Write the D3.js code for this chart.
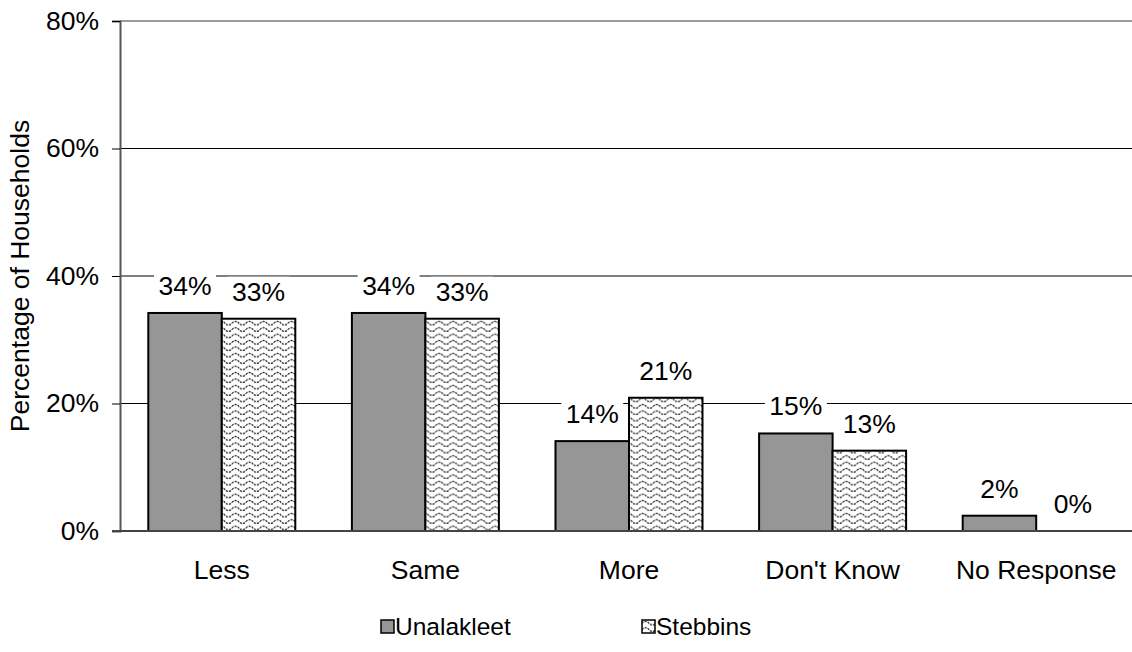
<!DOCTYPE html>
<html>
<head>
<meta charset="utf-8">
<script src="https://cdn.jsdelivr.net/npm/d3@7"></script>
<style>
  html, body { margin: 0; padding: 0; background: #fff; }
  svg { display: block; font-family: Arial, "Liberation Sans", sans-serif; }
</style>
</head>
<body>
<svg id="chart" width="1132" height="652"></svg>
<script>
// Household responses by community
const categories = ["Less", "Same", "More", "Don't Know", "No Response"];
const seriesNames = ["Unalakleet", "Stebbins"];
const unalakleet = [34.2, 34.2, 14.1, 15.3, 2.4];
const stebbins = [33.3, 33.3, 20.9, 12.6, 0];
const labelsUnalakleet = ["34%", "34%", "14%", "15%", "2%"];
const labelsStebbins = ["33%", "33%", "21%", "13%", "0%"];
const yTicks = [0, 20, 40, 60, 80];

const FONT = 26.5;
const LEGEND_FONT = 24.5;
const svg = d3.select("#chart");
const margin = { left: 120, top: 21, bottom: 531, right: 1138 };

// pattern fill for the second series: dotted wavy rows
const defs = svg.append("defs");
const pat = defs.append("pattern")
  .attr("id", "wave")
  .attr("patternUnits", "userSpaceOnUse")
  .attr("width", 14).attr("height", 6.4);
pat.append("rect").attr("width", 14).attr("height", 6.4).attr("fill", "#fff");
pat.append("path")
  .attr("d", "M0,3.2 C2,0.8 5,0.8 7,3.2 C9,5.6 12,5.6 14,3.2")
  .attr("fill", "none").attr("stroke", "#222").attr("stroke-width", 1.2)
  .attr("stroke-dasharray", "2.2,0.9");

const fills = { "Unalakleet": "#969696", "Stebbins": "url(#wave)" };

const y = d3.scaleLinear().domain([0, 80]).range([margin.bottom, margin.top]);
const x0 = d3.scaleBand().domain(categories).range([margin.left, margin.right]).padding(0);
const x1 = d3.scaleBand().domain(seriesNames).range([0, x0.bandwidth()])
  .paddingInner(0).paddingOuter(0.385);

// horizontal gridlines
svg.append("g").selectAll("line")
  .data(yTicks.filter(t => t > 0))
  .join("line")
  .attr("x1", margin.left).attr("x2", 1132)
  .attr("y1", d => y(d)).attr("y2", d => y(d))
  .attr("stroke", d => d === 80 ? "#7a7a7a" : "#000")
  .attr("stroke-width", d => d === 80 ? 1.6 : 1);

// y axis
const yAxis = d3.axisLeft(y).tickValues(yTicks).tickSize(8).tickFormat(d => d + "%");
const gy = svg.append("g").attr("transform", `translate(${margin.left},0)`).call(yAxis);
gy.select(".domain").attr("stroke", "#555").attr("stroke-width", 2);
gy.selectAll(".tick line").attr("stroke", "#000");
gy.selectAll(".tick text")
  .attr("x", -21).attr("font-size", FONT).attr("fill", "#000")
  .style("font-family", "Arial, 'Liberation Sans', sans-serif");

// bars
const rows = categories.map((c, i) => ({
  cat: c,
  vals: [
    { s: "Unalakleet", v: unalakleet[i], label: labelsUnalakleet[i] },
    { s: "Stebbins", v: stebbins[i], label: labelsStebbins[i] }
  ]
}));

const groups = svg.append("g").selectAll("g")
  .data(rows).join("g")
  .attr("transform", d => `translate(${x0(d.cat)},0)`);

groups.selectAll("rect.bar")
  .data(d => d.vals.filter(v => v.v > 0))
  .join("rect")
  .attr("class", "bar")
  .attr("x", d => x1(d.s))
  .attr("width", x1.bandwidth())
  .attr("y", d => y(d.v))
  .attr("height", d => y(0) - y(d.v))
  .attr("fill", d => fills[d.s])
  .attr("stroke", "#000")
  .attr("stroke-width", 2);

// value labels on white boxes
const lab = groups.selectAll("g.lab")
  .data(d => d.vals)
  .join("g")
  .attr("class", "lab")
  .attr("transform", d => `translate(${x1(d.s) + x1.bandwidth() / 2},${y(d.v) - 18})`);
lab.append("rect")
  .attr("x", -31).attr("y", -24).attr("width", 62).attr("height", 27)
  .attr("fill", "#fff");
lab.append("text")
  .attr("text-anchor", "middle")
  .attr("font-size", FONT)
  .attr("fill", "#000")
  .text(d => d.label);

// baseline
svg.append("line")
  .attr("x1", margin.left - 8).attr("x2", 1132)
  .attr("y1", y(0)).attr("y2", y(0))
  .attr("stroke", "#444").attr("stroke-width", 2);

// category labels
const xAxis = d3.axisBottom(x0).tickSize(0).tickPadding(0);
const gx = svg.append("g").attr("transform", `translate(0,${y(0)})`).call(xAxis);
gx.select(".domain").remove();
gx.selectAll(".tick text")
  .attr("y", 48).attr("dy", 0)
  .attr("font-size", FONT).attr("fill", "#000")
  .style("font-family", "Arial, 'Liberation Sans', sans-serif");

// y axis title
svg.append("text")
  .attr("transform", `translate(29,${(margin.top + margin.bottom) / 2}) rotate(-90)`)
  .attr("text-anchor", "middle")
  .attr("font-size", FONT)
  .attr("fill", "#000")
  .text("Percentage of Households");

// legend
const legendX = [381, 642];
const legend = svg.append("g").selectAll("g")
  .data(seriesNames).join("g")
  .attr("transform", (d, i) => `translate(${legendX[i]},620)`);
legend.append("rect")
  .attr("width", 13).attr("height", 13)
  .attr("fill", d => fills[d])
  .attr("stroke", "#000").attr("stroke-width", 1.5);
legend.append("text")
  .attr("x", 14).attr("y", 15)
  .attr("font-size", LEGEND_FONT).attr("fill", "#000")
  .text(d => d);
</script>
</body>
</html>
